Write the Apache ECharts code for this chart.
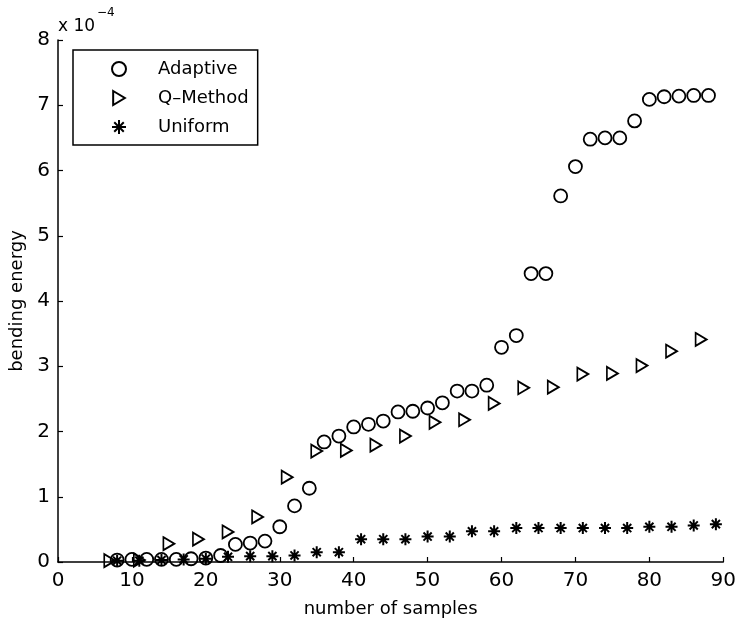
<!DOCTYPE html>
<html>
<head>
<meta charset="utf-8">
<script src="https://cdn.jsdelivr.net/npm/echarts@6/dist/echarts.min.js"></script>
<style>html,body{margin:0;padding:0;background:#fff;}#c{width:739px;height:623px;}</style>
</head>
<body>
<div id="c"></div>
<script>
// values in units of 1e-4
const adaptiveX = [8,10,12,14,16,18,20,22,24,26,28,30,32,34,36,38,40,42,44,46,48,50,52,54,56,58,60,62,64,66,68,70,72,74,76,78,80,82,84,86,88];
const adaptiveY = [0.03,0.04,0.04,0.04,0.04,0.05,0.06,0.10,0.27,0.29,0.32,0.54,0.86,1.13,1.84,1.93,2.07,2.11,2.16,2.30,2.31,2.36,2.44,2.62,2.62,2.71,3.29,3.47,4.42,4.42,5.61,6.06,6.48,6.50,6.50,6.76,7.09,7.13,7.14,7.15,7.15];
const qX = [7,11,15,19,23,27,31,35,39,43,47,51,55,59,63,67,71,75,79,83,87];
const qY = [0.02,0.03,0.28,0.35,0.46,0.69,1.30,1.70,1.71,1.79,1.93,2.14,2.18,2.43,2.67,2.68,2.88,2.89,3.01,3.23,3.41];
const uniformX = [8,11,14,17,20,23,26,29,32,35,38,41,44,47,50,53,56,59,62,65,68,71,74,77,80,83,86,89];
const uniformY = [0.02,0.02,0.03,0.04,0.05,0.08,0.09,0.09,0.10,0.15,0.15,0.35,0.35,0.35,0.39,0.39,0.47,0.47,0.52,0.52,0.52,0.52,0.52,0.52,0.54,0.54,0.56,0.58];
const seriesNames = ['Adaptive','Q\u2013Method','Uniform'];
const xTicks = [0,10,20,30,40,50,60,70,80,90];
const yTicks = [0,1,2,3,4,5,6,7,8];

const pairs = (xs, ys) => xs.map((x, i) => [x, ys[i]]);
const FONT = 'DejaVu Sans';
const chart = echarts.init(document.getElementById('c'), null, {renderer: 'canvas'});
const baseStyle = {color: 'rgba(0,0,0,0)', borderColor: '#000', borderWidth: 1.8, opacity: 1};
chart.setOption({
  backgroundColor: '#fff',
  animation: false,
  grid: {left: 58, right: 12, top: 40, bottom: 58, containLabel: false},
  legend: {
    orient: 'vertical', left: 73, top: 50,
    padding: [10, 9, 9, 38],
    itemWidth: 14, itemHeight: 14, itemGap: 11,
    borderColor: '#000', borderWidth: 1.5, backgroundColor: '#fff',
    textStyle: {fontFamily: FONT, fontSize: 18, color: '#000', padding: [0, 0, 0, 27]},
    data: seriesNames
  },
  xAxis: {
    type: 'value', min: xTicks[0], max: xTicks[xTicks.length - 1], interval: 10,
    name: 'number of samples', nameLocation: 'middle', nameGap: 38,
    nameTextStyle: {fontFamily: FONT, fontSize: 18, color: '#000'},
    axisLine: {show: true, lineStyle: {color: '#000', width: 1.5}},
    axisTick: {show: true, inside: true, length: 5, lineStyle: {color: '#000', width: 1.2}},
    axisLabel: {fontFamily: FONT, fontSize: 20, color: '#000', margin: 9},
    splitLine: {show: false}
  },
  yAxis: {
    type: 'value', min: yTicks[0], max: yTicks[yTicks.length - 1], interval: 1,
    name: 'bending energy', nameLocation: 'middle', nameGap: 28, nameRotate: 90,
    nameTextStyle: {fontFamily: FONT, fontSize: 18, color: '#000'},
    axisLine: {show: true, lineStyle: {color: '#000', width: 1.5}},
    axisTick: {show: true, inside: true, length: 5, lineStyle: {color: '#000', width: 1.2}},
    axisLabel: {fontFamily: FONT, fontSize: 20, color: '#000', margin: 8},
    splitLine: {show: false}
  },
  graphic: [
    {type: 'text', left: 58, top: 18, style: {text: 'x 10', font: '17px "DejaVu Sans"', fill: '#000'}},
    {type: 'text', left: 97, top: 7, style: {text: '\u22124', font: '12px "DejaVu Sans"', fill: '#000'}}
  ],
  series: [
    {name: seriesNames[0], type: 'scatter', data: pairs(adaptiveX, adaptiveY),
     symbol: 'circle', symbolSize: 13, itemStyle: baseStyle, z: 3},
    {name: seriesNames[1], type: 'scatter', data: pairs(qX, qY),
     symbol: 'path://M0,0L10,6L0,12Z', symbolSize: [11, 13], itemStyle: baseStyle, z: 3},
    {name: seriesNames[2], type: 'scatter', data: pairs(uniformX, uniformY),
     symbol: 'path://M5,0L5,10M0,5L10,5M1.6,1.6L8.4,8.4M1.6,8.4L8.4,1.6', symbolSize: 12,
     itemStyle: {color: 'rgba(0,0,0,0)', borderColor: '#000', borderWidth: 2, opacity: 1}, z: 3}
  ]
});
</script>
</body>
</html>
